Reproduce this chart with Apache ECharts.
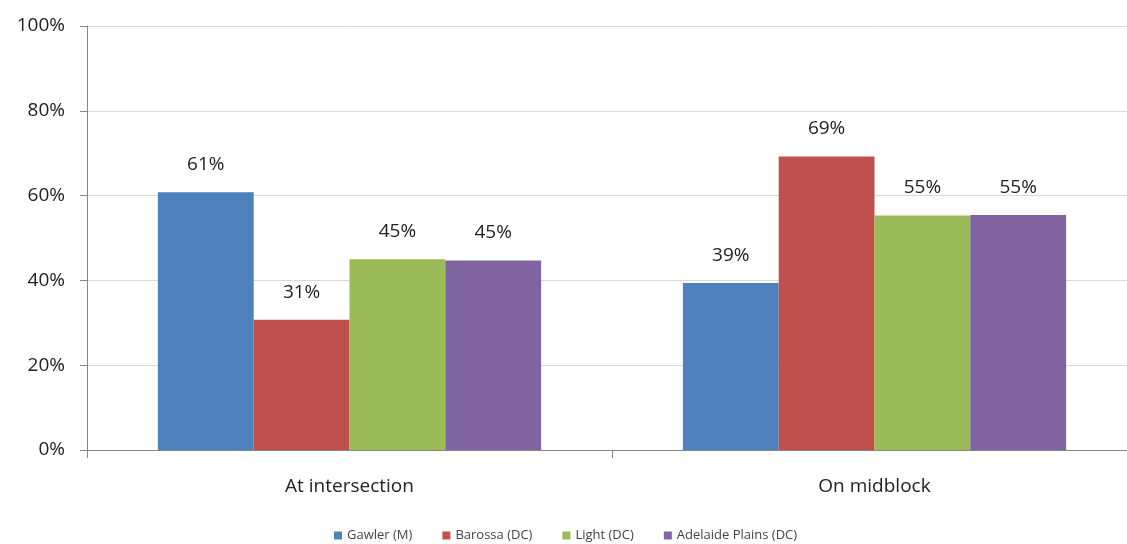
<!DOCTYPE html>
<html>
<head>
<meta charset="utf-8">
<script src="https://cdn.jsdelivr.net/npm/echarts@6/dist/echarts.min.js"></script>
<style>html,body{margin:0;padding:0;background:#fff;overflow:hidden}#c{width:1137px;height:544px}</style>
</head>
<body>
<div id="c"></div>
<script>
const categories = ["At intersection", "On midblock"];
const seriesNames = ["Gawler (M)", "Barossa (DC)", "Light (DC)", "Adelaide Plains (DC)"];
const gawler = [60.8, 39.4];
const barossa = [30.7, 69.2];
const light = [45.0, 55.3];
const adelaidePlains = [44.7, 55.4];
const colors = ["#4F81BD", "#C0504D", "#9BBB59", "#8064A2"];
const yTicks = [0, 20, 40, 60, 80, 100];

const font = "'Open Sans', 'Liberation Sans', sans-serif";
const values = [gawler, barossa, light, adelaidePlains];
const chart = echarts.init(document.getElementById('c'));
chart.setOption({
  animation: false,
  color: colors,
  grid: { left: 87, right: 0, top: 26, bottom: 94 },
  legend: {
    bottom: -3, left: 329, itemWidth: 8, itemHeight: 8, itemGap: 30,
    icon: 'rect',
    textStyle: { fontFamily: font, fontSize: 13, color: '#444' },
    data: seriesNames
  },
  xAxis: {
    type: 'category', data: categories,
    axisLine: { lineStyle: { color: '#868686' } },
    axisTick: { show: true, length: 8, lineStyle: { color: '#868686' } },
    axisLabel: { fontFamily: font, fontSize: 19, color: '#222', margin: 27 }
  },
  yAxis: {
    type: 'value', min: yTicks[0], max: yTicks[yTicks.length - 1], interval: 20,
    axisLine: { show: true, lineStyle: { color: '#868686' } },
    axisTick: { show: true, length: 7, lineStyle: { color: '#868686' } },
    splitLine: { lineStyle: { color: '#d9d9d9' } },
    axisLabel: { fontFamily: font, fontSize: 19, color: '#222', margin: 22, formatter: v => v + '%' }
  },
  series: seriesNames.map((n, i) => ({
    name: n, type: 'bar', data: values[i],
    barGap: '0%', barCategoryGap: '27%',
    label: {
      show: true, position: 'top', distance: 18,
      fontFamily: font, fontSize: 19, color: '#222',
      formatter: p => Math.round(p.value) + '%'
    }
  }))
});
</script>
</body>
</html>
